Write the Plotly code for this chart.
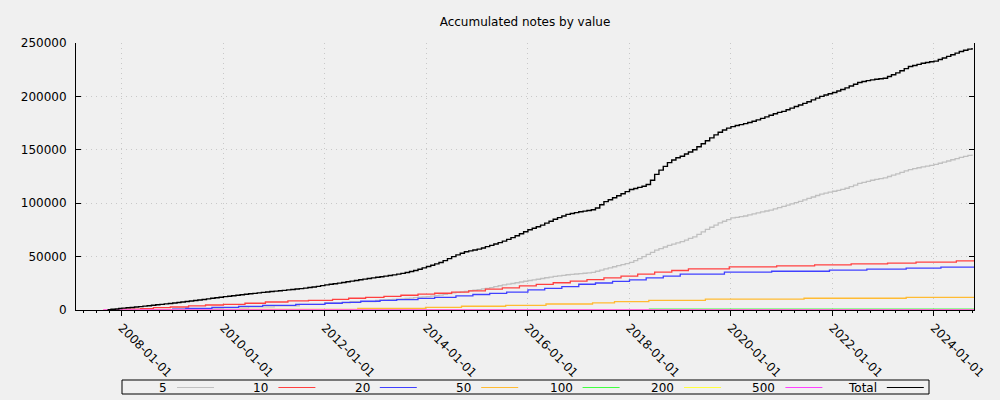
import pandas as pd
import plotly.graph_objects as go

# ---------------- data ----------------
series_names = ["5", "10", "20", "50", "100", "200", "500", "Total"]
series_colors = ["#c0c0c0", "#ff4040", "#4040ff", "#ffbb33", "#40ff40", "#ffff40", "#ff40ff", "#000000"]

# Total: a few early points, then monthly values from 2008-01 to 2024-10
total_early_dates = ["2007-09-20", "2007-10-15", "2007-11-15", "2007-12-10"]
total_early_values = [300, 700, 1000, 1400]
total_start = "2008-01-01"
total_values = [1800, 2100, 2400, 2800, 3200, 3600, 4000, 4400, 4900, 5300, 5700, 6100,
                6600, 7000, 7500, 8000, 8400, 8900, 9400, 9900, 10400, 11000, 11500, 12000,
                12500, 12900, 13300, 13800, 14300, 14700, 15200, 15600, 16000, 16500, 16900, 17300,
                17700, 18000, 18400, 18800, 19200, 19600, 20000, 20500, 21000, 21500, 22100, 22800,
                23500, 24100, 24600, 25200, 25800, 26400, 27000, 27600, 28300, 28900, 29500, 30100,
                30700, 31200, 31700, 32300, 32900, 33600, 34300, 35100, 36000, 37000, 38200, 39400,
                40700, 41900, 43200, 44500, 46200, 48100, 50000, 51600, 53100, 54500, 55400, 56200,
                57000, 58100, 59300, 60500, 61800, 63100, 64500, 66100, 67800, 69500, 71400, 73300,
                75200, 76600, 78000, 79500, 81300, 83100, 85000, 86500, 88000, 89500, 90400, 91200,
                92000, 92600, 93200, 93800, 95500, 98500, 101500, 103300, 105100, 107000, 108900, 110800,
                112800, 113800, 114800, 115900, 117500, 121500, 127000, 131000, 134500, 138000, 140500, 142600,
                144000, 146000, 148000, 150000, 152800, 155600, 158500, 161200, 164000, 166500, 168600, 170300,
                171700, 172700, 173600, 174500, 175500, 176800, 178000, 179400, 180800, 182300, 183700, 185000,
                186000, 187500, 189000, 190500, 192000, 193500, 195000, 196700, 198400, 200000, 201300, 202500,
                203700, 205100, 206500, 208000, 209700, 211400, 213000, 213900, 214800, 215500, 216000, 216500,
                217000, 218600, 220300, 222000, 224000, 226000, 228000, 229000, 230000, 231000, 231700, 232400,
                233000, 234500, 236000, 237500, 239000, 240500, 242000, 243200, 244300, 245300]

# 5: half-yearly until 2012, then monthly from 2013-01 to 2024-10
v5_early_dates = ["2008-01-01", "2008-07-01", "2009-01-01", "2009-07-01", "2010-01-01",
                  "2010-07-01", "2011-01-01", "2011-07-01", "2012-01-01", "2012-07-01"]
v5_early_values = [0, 300, 700, 1300, 2000, 3000, 4000, 5200, 6700, 7800]
v5_start = "2013-01-01"
v5_values = [9000, 9200, 9500, 9700, 10000, 10200, 10500, 10800, 11200, 11600, 12000, 12200,
             12500, 13000, 13500, 14000, 14600, 15300, 16000, 16500, 17000, 17500, 18000, 18500,
             19000, 19700, 20300, 21000, 21800, 22700, 23500, 24200, 24800, 25500, 26200, 26900,
             27600, 28200, 28800, 29500, 30200, 30800, 31500, 32000, 32500, 33000, 33300, 33700,
             34000, 34400, 34800, 35300, 36300, 37400, 38500, 39500, 40500, 41500, 42500, 43500,
             44500, 46300, 48100, 50000, 52000, 54000, 56000, 57500, 59000, 60500, 61700, 62900,
             64000, 65500, 67000, 68500, 70800, 73200, 75500, 77500, 79500, 81500, 83100, 84700,
             86200, 86800, 87400, 88000, 89000, 90000, 91000, 91800, 92700, 93500, 94700, 95800,
             97000, 98200, 99300, 100500, 101800, 103200, 104500, 105800, 107200, 108500, 109400, 110300,
             111200, 112100, 113000, 114000, 115500, 117000, 118500, 119500, 120500, 121500, 122300, 123000,
             123800, 125000, 126300, 127500, 128800, 130200, 131500, 132300, 133200, 134000, 134800, 135500,
             136300, 137400, 138400, 139500, 140700, 141800, 143000, 143900, 144800, 145700]

v10_dates = ["2008-01-01", "2008-05-15", "2008-08-15", "2008-12-15", "2009-04-25", "2009-08-25",
             "2010-01-01", "2010-06-05", "2010-10-30", "2011-04-10", "2011-09-05", "2012-02-25",
             "2012-06-20", "2012-10-20", "2013-03-01", "2013-07-01", "2013-11-01", "2014-03-01",
             "2014-07-01", "2014-11-01", "2015-03-01", "2015-07-01", "2015-11-01", "2016-03-01",
             "2016-07-01", "2016-11-01", "2017-03-01", "2017-07-01", "2017-11-01", "2018-03-01",
             "2018-07-01", "2018-11-01", "2019-03-01", "2019-12-20", "2020-11-25", "2021-08-25",
             "2022-05-15", "2023-02-01", "2023-08-25", "2024-06-10", "2024-10-15"]
v10_values = [700, 1200, 2200, 2800, 3800, 4700,
              5300, 6300, 7500, 8500, 9100, 10000,
              11000, 11900, 12800, 13800, 14800, 15700,
              16800, 18000, 19600, 20800, 22500, 24000,
              25500, 27000, 28500, 30000, 31800, 33500,
              35500, 37000, 38600, 40400, 41400, 42300,
              43200, 43900, 44800, 46000, 46000]

v20_dates = ["2008-05-15", "2009-01-01", "2009-04-05", "2009-10-10", "2010-04-20", "2010-10-10",
             "2011-06-05", "2012-01-01", "2012-05-05", "2012-09-15", "2013-02-01", "2013-06-01",
             "2013-11-01", "2014-03-01", "2014-08-01", "2014-12-01", "2015-04-01", "2015-08-01",
             "2016-01-01", "2016-05-01", "2016-09-01", "2017-01-01", "2017-05-01", "2017-09-01",
             "2018-01-01", "2018-05-01", "2018-09-01", "2019-01-01", "2019-11-15", "2020-10-20",
             "2021-12-10", "2022-09-05", "2023-06-15", "2024-02-20", "2024-10-15"]
v20_values = [300, 900, 1600, 2500, 3400, 4400,
              5300, 6300, 7200, 8200, 9000, 9800,
              10800, 11900, 13200, 14500, 15600, 16800,
              18800, 20200, 21800, 24100, 25300, 26800,
              28200, 30000, 31800, 33500, 35400, 36300,
              37300, 38300, 39200, 40100, 40100]

v50_dates = ["2010-04-25", "2012-08-25", "2013-12-25", "2014-09-10", "2015-07-25", "2016-05-10",
             "2017-04-10", "2017-09-15", "2018-05-20", "2019-07-01", "2021-06-10", "2023-06-15",
             "2024-10-15"]
v50_values = [500, 1600, 2500, 3500, 4400, 5600,
              6600, 7800, 9100, 10100, 11000, 11900,
              11900]

v100_dates = ["2018-05-20", "2024-10-15"]
v100_values = [700, 700]

v200_dates = ["2007-08-20", "2024-10-15"]
v200_values = [0, 0]

v500_dates = ["2007-08-20", "2024-10-15"]
v500_values = [0, 0]

x_range = ["2007-02-05", "2024-10-15"]
y_range = [0, 250000]

# ---------------- build series ----------------
total_dates = total_early_dates + list(
    pd.date_range(total_start, periods=len(total_values), freq="MS").strftime("%Y-%m-%d"))
total_all = total_early_values + total_values
v5_dates = v5_early_dates + list(pd.date_range(v5_start, periods=len(v5_values), freq="MS").strftime("%Y-%m-%d"))
v5_all = v5_early_values + v5_values

all_dates = [v5_dates, v10_dates, v20_dates, v50_dates, v100_dates, v200_dates, v500_dates, total_dates]
all_values = [v5_all, v10_values, v20_values, v50_values, v100_values, v200_values, v500_values, total_all]
line_widths = [1.3, 1.3, 1.3, 1.3, 1.3, 1.3, 1.3, 1.4]

# ---------------- figure ----------------
FONT = "DejaVu Sans"
BG = "#f0f0f0"
W, H = 1000, 400
ML, MR, MT, MB = 76, 26, 43, 90
PW, PH = W - ML - MR, H - MT - MB

fig = go.Figure()
for name, color, d, v, lw in zip(series_names, series_colors, all_dates, all_values, line_widths):
    fig.add_trace(go.Scatter(x=d, y=v, name=name, mode="lines", line_shape="hv",
                             line=dict(color=color, width=lw), showlegend=False))


def pxx(p):
    return (p - ML) / PW


def pxy(p):
    return (H - MB - p) / PH


shapes = [dict(type="rect", xref="paper", yref="paper",
               x0=pxx(122), x1=pxx(929), y0=pxy(394), y1=pxy(380),
               line=dict(color="black", width=1), fillcolor=BG, layer="above")]
annotations = []
step = 101.4
for i, (name, color) in enumerate(zip(series_names, series_colors)):
    text_end = 168 + step * i
    ls = 177 + step * i
    shapes.append(dict(type="line", xref="paper", yref="paper",
                       x0=pxx(ls), x1=pxx(ls + 37), y0=pxy(387.5), y1=pxy(387.5),
                       line=dict(color=color, width=1)))
    annotations.append(dict(text=name, xref="paper", yref="paper", x=pxx(text_end + 1), y=pxy(387.5),
                            xanchor="right", yanchor="middle", showarrow=False,
                            font=dict(family=FONT, size=12, color="black")))

GRID = "#c8c8c8"
fig.update_layout(
    width=W, height=H,
    margin=dict(l=ML, r=MR, t=MT, b=MB, pad=0),
    paper_bgcolor=BG, plot_bgcolor=BG,
    font=dict(family=FONT, size=12, color="black"),
    title=dict(text="Accumulated notes by value", x=0.5, xref="paper", xanchor="center",
               y=1 - 22 / H, yref="container", yanchor="middle",
               font=dict(family=FONT, size=12, color="black")),
    shapes=shapes, annotations=annotations,
    xaxis=dict(type="date", range=x_range, tickformat="%Y-%m-%d", dtick="M24", tick0="2008-01-01",
               tickangle=45, ticks="outside", ticklen=5, tickwidth=1, tickcolor="black",
               showline=True, linecolor="black", linewidth=1, mirror=False,
               showgrid=True, gridcolor=GRID, griddash="1px,4px", gridwidth=1,
               zeroline=False, tickfont=dict(family=FONT, size=12, color="black"),
               minor=dict(dtick="M3", tick0="2008-01-01", ticks="outside", ticklen=2,
                          tickcolor="black", showgrid=False)),
    yaxis=dict(range=y_range, dtick=50000, tickformat="d", ticks="inside", ticklen=5, tickwidth=1,
               tickcolor="black", showline=True, linecolor="black", linewidth=1, mirror="ticks",
               showgrid=True, gridcolor=GRID, griddash="1px,4px", gridwidth=1,
               zeroline=False, ticklabelstandoff=6,
               tickfont=dict(family=FONT, size=12, color="black")),
)

fig.write_html("out.html", config={"displayModeBar": False},
               post_script="document.body.style.margin='0';")
